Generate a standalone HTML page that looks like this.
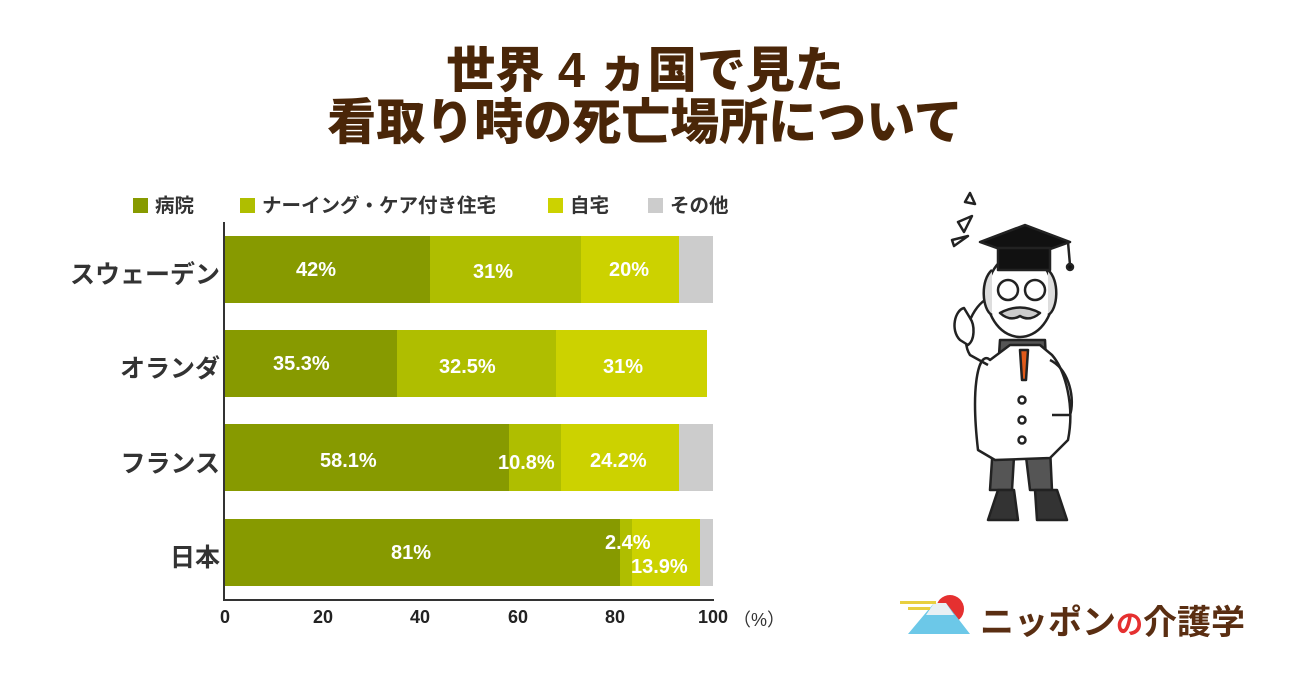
<!DOCTYPE html>
<html><head><meta charset="utf-8"><style>
body{margin:0;width:1290px;height:675px;background:#fff;overflow:hidden;font-family:"Liberation Sans","Noto Sans CJK JP",sans-serif;}
.t{position:absolute;left:0;width:1290px;text-align:center;color:#4a2608;font-weight:900;font-size:49px;line-height:54px;}
.a{position:absolute;}
.bar{position:absolute;height:67px;}
.lbl{position:absolute;color:#fff;font-weight:bold;font-size:20px;}
.cat{position:absolute;right:1070px;font-weight:bold;font-size:25px;color:#333;white-space:nowrap;}
.tick{position:absolute;top:607px;font-weight:bold;font-size:18px;color:#222;transform:translateX(-50%);}
.lg{position:absolute;top:189px;font-size:19.5px;font-weight:bold;color:#333;white-space:nowrap;}
.sq{display:inline-block;width:15px;height:15px;vertical-align:-1px;margin-right:7px;}
</style></head><body>
<div class="t" style="top:44px">世界 4 ヵ国で見た</div>
<div class="t" style="top:96px">看取り時の死亡場所について</div>

<div class="lg" style="left:133px"><span class="sq" style="background:#879a00"></span>病院</div>
<div class="lg" style="left:240px"><span class="sq" style="background:#afbe00"></span>ナーイング・ケア付き住宅</div>
<div class="lg" style="left:548px"><span class="sq" style="background:#ccd200"></span>自宅</div>
<div class="lg" style="left:648px"><span class="sq" style="background:#cccccc"></span>その他</div>

<div class="a" style="left:223px;top:222px;width:2px;height:379px;background:#333"></div>
<div class="a" style="left:223px;top:599px;width:491px;height:2px;background:#333"></div>

<div class="bar" style="top:236px;left:225px;width:205px;background:#879a00"></div>
<div class="bar" style="top:236px;left:430px;width:151px;background:#afbe00"></div>
<div class="bar" style="top:236px;left:581px;width:98px;background:#ccd200"></div>
<div class="bar" style="top:236px;left:679px;width:34px;background:#cccccc"></div>
<div class="lbl" style="left:296px;top:259px">42%</div>
<div class="lbl" style="left:473px;top:261px">31%</div>
<div class="lbl" style="left:609px;top:259px">20%</div>
<div class="bar" style="top:330px;left:225px;width:172px;background:#879a00"></div>
<div class="bar" style="top:330px;left:397px;width:159px;background:#afbe00"></div>
<div class="bar" style="top:330px;left:556px;width:151px;background:#ccd200"></div>
<div class="lbl" style="left:273px;top:353px">35.3%</div>
<div class="lbl" style="left:439px;top:356px">32.5%</div>
<div class="lbl" style="left:603px;top:356px">31%</div>
<div class="bar" style="top:424px;left:225px;width:284px;background:#879a00"></div>
<div class="bar" style="top:424px;left:509px;width:52px;background:#afbe00"></div>
<div class="bar" style="top:424px;left:561px;width:118px;background:#ccd200"></div>
<div class="bar" style="top:424px;left:679px;width:34px;background:#cccccc"></div>
<div class="lbl" style="left:320px;top:450px">58.1%</div>
<div class="lbl" style="left:498px;top:452px">10.8%</div>
<div class="lbl" style="left:590px;top:450px">24.2%</div>
<div class="bar" style="top:519px;left:225px;width:395px;background:#879a00"></div>
<div class="bar" style="top:519px;left:620px;width:12px;background:#afbe00"></div>
<div class="bar" style="top:519px;left:632px;width:68px;background:#ccd200"></div>
<div class="bar" style="top:519px;left:700px;width:13px;background:#cccccc"></div>
<div class="lbl" style="left:391px;top:542px">81%</div>
<div class="lbl" style="left:605px;top:532px">2.4%</div>
<div class="lbl" style="left:631px;top:556px">13.9%</div>

<div class="cat" style="top:255px">スウェーデン</div>
<div class="cat" style="top:349px">オランダ</div>
<div class="cat" style="top:444px">フランス</div>
<div class="cat" style="top:538px">日本</div>

<div class="tick" style="left:225px">0</div>
<div class="tick" style="left:323px">20</div>
<div class="tick" style="left:420px">40</div>
<div class="tick" style="left:518px">60</div>
<div class="tick" style="left:615px">80</div>
<div class="tick" style="left:713px">100</div>
<div class="a" style="left:733px;top:606px;font-size:18px;color:#333">（%）</div>

<svg class="a" style="left:940px;top:190px" width="150" height="350" viewBox="0 0 150 350">
<g stroke="#222" stroke-width="2.5" fill="#fff" stroke-linejoin="round">
<polygon points="25,12 30,3 35,14"/><polygon points="18,32 32,26 24,42" /><polygon points="12,50 28,46 14,56"/>
<path d="M60,150 L50,300 L72,300 L78,200 L90,300 L112,300 L105,150 Z" fill="#555"/>
<path d="M50,170 C40,160 30,190 38,260 L55,270 L110,268 L128,250 C135,215 125,180 112,165 L100,155 L70,155 Z"/>
<path d="M58,300 l-10,30 h30 l-4,-30z M95,300 l2,30 h30 l-10,-30z" fill="#333"/>
<path d="M45,110 C30,120 20,150 30,165 L48,175" fill="none"/>
<path d="M20,150 C10,140 15,120 24,118 L30,128 C35,135 35,150 28,155 Z"/>
<path d="M110,170 C130,180 135,210 130,225 L112,225" fill="none"/>
<ellipse cx="80" cy="105" rx="33" ry="42"/>
<path d="M52,80 C40,90 42,120 52,125 M108,80 C120,90 118,120 108,125" fill="#ddd"/>
<circle cx="68" cy="100" r="10"/><circle cx="95" cy="100" r="10"/>
<path d="M60,123 Q80,112 100,123 Q90,132 80,126 Q70,132 60,123Z" fill="#ccc"/>
<polygon points="40,52 85,35 130,52 85,68" fill="#111"/>
<rect x="58" y="58" width="52" height="22" fill="#111"/>
<line x1="128" y1="52" x2="130" y2="75"/><circle cx="130" cy="77" r="3" fill="#111"/>
<polygon points="80,160 88,160 86,190 82,190" fill="#e05a1a"/>
<circle cx="82" cy="210" r="3.5"/><circle cx="82" cy="230" r="3.5"/><circle cx="82" cy="250" r="3.5"/>
</g></svg>

<svg class="a" style="left:898px;top:593px" width="80" height="42">
<circle cx="52" cy="16" r="14" fill="#e53030"/>
<polygon points="10,41 36,10 48,10 72,41" fill="#6cc8e8"/>
<polygon points="36,10 48,10 56,22 28,22" fill="#e8f0f4"/>
<rect x="2" y="8" width="36" height="3" fill="#e8cf40"/><rect x="10" y="14" width="22" height="3" fill="#e8cf40"/>
</svg>
<div class="a" style="left:980px;top:595px;font-size:34px;font-weight:bold;color:#5a2e12;letter-spacing:0px;white-space:nowrap">ニッポン<span style="color:#e53030;font-size:27px">の</span>介護学</div>
</body></html>
